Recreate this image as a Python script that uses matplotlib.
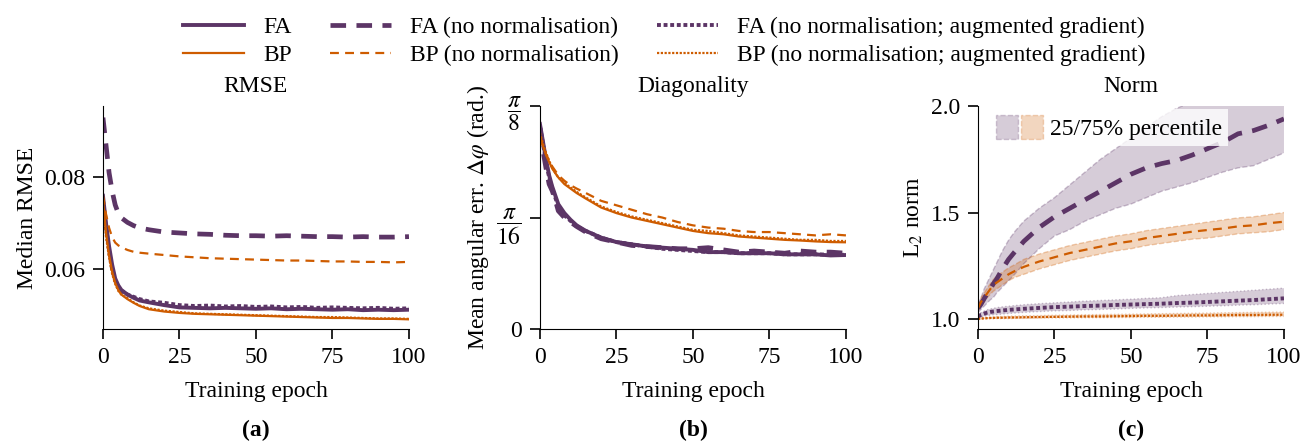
import numpy as np
import matplotlib
matplotlib.use('Agg')
import matplotlib.pyplot as plt
from matplotlib.lines import Line2D
from matplotlib.patches import Patch
from matplotlib.legend_handler import HandlerTuple

plt.rcParams['font.family'] = ['Liberation Serif', 'DejaVu Serif']
plt.rcParams['mathtext.fontset'] = 'stix'
plt.rcParams['font.size'] = 16

PURPLE = '#5c3566'
ORANGE = '#ce5c00'

epochs = [0, 1, 2, 3, 4, 5, 6, 8, 10, 12, 15, 20, 25, 30, 35, 40, 45, 50,
          55, 60, 65, 70, 75, 80, 85, 90, 95, 100]

# (a) median RMSE
rmse_fa = [0.076, 0.070, 0.065, 0.061, 0.058, 0.0565, 0.0555, 0.0545, 0.0538, 0.0532,
           0.0528, 0.0522, 0.0517, 0.0516, 0.0515, 0.0516, 0.0515, 0.0514, 0.0515, 0.0513,
           0.0514, 0.0513, 0.0512, 0.0513, 0.0511, 0.0512, 0.0511, 0.0512]
rmse_fa_nonorm = [0.093, 0.087, 0.081, 0.077, 0.074, 0.0722, 0.0712, 0.0702, 0.0695, 0.069,
                  0.0686, 0.0681, 0.0679, 0.0677, 0.0676, 0.0674, 0.0673, 0.0673, 0.0672, 0.0673,
                  0.0672, 0.0671, 0.0671, 0.067, 0.0671, 0.067, 0.067, 0.0671]
rmse_fa_aug = [0.075, 0.069, 0.064, 0.060, 0.0575, 0.0562, 0.0553, 0.0545, 0.054, 0.0535,
               0.053, 0.0527, 0.0522, 0.052, 0.0521, 0.0519, 0.052, 0.0518, 0.0519, 0.0517,
               0.0518, 0.0516, 0.0517, 0.0516, 0.0515, 0.0516, 0.0514, 0.0515]
rmse_bp = [0.075, 0.068, 0.063, 0.0595, 0.057, 0.0555, 0.0545, 0.0535, 0.0527, 0.052,
           0.0513, 0.0508, 0.0505, 0.0503, 0.0502, 0.0501, 0.0500, 0.0499, 0.0498, 0.0497,
           0.0496, 0.0495, 0.0494, 0.0494, 0.0493, 0.0492, 0.0492, 0.0491]
rmse_bp_nonorm = [0.076, 0.072, 0.069, 0.067, 0.0658, 0.0652, 0.0648, 0.0642, 0.0638, 0.0636,
                  0.0634, 0.0631, 0.0628, 0.0626, 0.0624, 0.0623, 0.0622, 0.0621, 0.062, 0.0619,
                  0.0619, 0.0618, 0.0617, 0.0617, 0.0616, 0.0616, 0.0615, 0.0616]
rmse_bp_aug = [0.074, 0.067, 0.0625, 0.059, 0.0568, 0.0553, 0.0545, 0.0537, 0.0528, 0.0521,
               0.0515, 0.051, 0.0507, 0.0504, 0.0503, 0.0502, 0.0501, 0.0500, 0.0499, 0.0498,
               0.0497, 0.0496, 0.0496, 0.0495, 0.0494, 0.0493, 0.0493, 0.0492]

# (b) mean angular error, in units of pi/8
ang_fa = [0.92, 0.84, 0.76, 0.69, 0.64, 0.60, 0.56, 0.52, 0.49, 0.465, 0.44, 0.41, 0.39, 0.38,
          0.37, 0.365, 0.36, 0.355, 0.345, 0.345, 0.34, 0.34, 0.34, 0.335, 0.335, 0.335, 0.33, 0.332]
ang_fa_nonorm = [0.90, 0.80, 0.72, 0.65, 0.62, 0.58, 0.53, 0.50, 0.48, 0.46, 0.435, 0.405, 0.39,
                 0.375, 0.37, 0.365, 0.36, 0.36, 0.365, 0.355, 0.345, 0.35, 0.345, 0.34, 0.35,
                 0.345, 0.345, 0.34]
ang_fa_aug = [0.91, 0.83, 0.75, 0.68, 0.63, 0.59, 0.55, 0.51, 0.485, 0.46, 0.44, 0.41, 0.39, 0.38,
              0.37, 0.36, 0.355, 0.35, 0.345, 0.345, 0.34, 0.34, 0.34, 0.335, 0.335, 0.335, 0.333, 0.333]
ang_bp = [0.87, 0.82, 0.78, 0.75, 0.72, 0.70, 0.68, 0.65, 0.63, 0.61, 0.585, 0.545, 0.52, 0.50,
          0.485, 0.47, 0.455, 0.44, 0.43, 0.425, 0.415, 0.41, 0.405, 0.40, 0.397, 0.393, 0.39, 0.389]
ang_bp_nonorm = [0.86, 0.82, 0.785, 0.755, 0.73, 0.71, 0.69, 0.665, 0.645, 0.63, 0.61, 0.575,
                 0.555, 0.535, 0.515, 0.50, 0.48, 0.465, 0.455, 0.45, 0.44, 0.435, 0.435, 0.43,
                 0.425, 0.42, 0.425, 0.42]
ang_bp_aug = [0.88, 0.83, 0.79, 0.755, 0.725, 0.70, 0.68, 0.655, 0.635, 0.615, 0.59, 0.55, 0.525,
              0.505, 0.49, 0.475, 0.46, 0.445, 0.44, 0.43, 0.42, 0.415, 0.41, 0.405, 0.40, 0.40,
              0.395, 0.395]

# (c) L2 norm, median with 25/75% percentiles
norm_fa_nonorm = [1.05, 1.07, 1.095, 1.12, 1.14, 1.165, 1.185, 1.235, 1.28, 1.315, 1.365, 1.43,
                  1.48, 1.52, 1.56, 1.60, 1.64, 1.68, 1.71, 1.73, 1.745, 1.77, 1.80, 1.83, 1.87,
                  1.885, 1.91, 1.94]
norm_fa_nonorm_lo = [1.03, 1.045, 1.06, 1.075, 1.09, 1.10, 1.12, 1.15, 1.18, 1.21, 1.26, 1.33,
                     1.39, 1.42, 1.46, 1.49, 1.52, 1.54, 1.57, 1.60, 1.62, 1.64, 1.665, 1.69,
                     1.71, 1.72, 1.75, 1.78]
norm_fa_nonorm_hi = [1.07, 1.10, 1.14, 1.17, 1.20, 1.23, 1.26, 1.32, 1.37, 1.41, 1.46, 1.52,
                     1.57, 1.63, 1.69, 1.75, 1.80, 1.85, 1.90, 1.95, 1.99, 2.02, 2.05, 2.07,
                     2.09, 2.11, 2.13, 2.15]
norm_bp_nonorm = [1.05, 1.08, 1.10, 1.12, 1.14, 1.16, 1.17, 1.19, 1.21, 1.225, 1.245, 1.27, 1.29,
                  1.31, 1.325, 1.34, 1.355, 1.365, 1.38, 1.39, 1.40, 1.41, 1.418, 1.425, 1.435,
                  1.44, 1.45, 1.457]
norm_bp_nonorm_lo = [1.04, 1.06, 1.08, 1.10, 1.115, 1.13, 1.14, 1.16, 1.18, 1.195, 1.21, 1.235,
                     1.255, 1.275, 1.29, 1.305, 1.32, 1.33, 1.345, 1.355, 1.365, 1.375, 1.38,
                     1.39, 1.40, 1.405, 1.41, 1.42]
norm_bp_nonorm_hi = [1.06, 1.10, 1.12, 1.145, 1.165, 1.185, 1.20, 1.22, 1.24, 1.255, 1.28, 1.305,
                     1.325, 1.345, 1.36, 1.375, 1.39, 1.40, 1.415, 1.425, 1.435, 1.445, 1.455,
                     1.465, 1.475, 1.48, 1.49, 1.50]
norm_fa_aug = [1.01, 1.02, 1.025, 1.03, 1.033, 1.035, 1.037, 1.04, 1.043, 1.045, 1.048, 1.052,
               1.056, 1.058, 1.061, 1.063, 1.066, 1.068, 1.07, 1.072, 1.075, 1.077, 1.08, 1.083,
               1.086, 1.089, 1.093, 1.097]
norm_fa_aug_lo = [1.005, 1.01, 1.013, 1.016, 1.018, 1.02, 1.021, 1.023, 1.026, 1.028, 1.031,
                  1.035, 1.038, 1.04, 1.043, 1.045, 1.047, 1.05, 1.052, 1.054, 1.056, 1.058, 1.06,
                  1.062, 1.065, 1.067, 1.07, 1.073]
norm_fa_aug_hi = [1.015, 1.03, 1.037, 1.043, 1.047, 1.05, 1.053, 1.057, 1.06, 1.063, 1.067, 1.072,
                  1.076, 1.08, 1.084, 1.087, 1.09, 1.093, 1.097, 1.1, 1.11, 1.115, 1.12, 1.125,
                  1.13, 1.135, 1.14, 1.145]
norm_bp_aug = [1.0, 1.002, 1.003, 1.004, 1.005, 1.005, 1.006, 1.006, 1.007, 1.007, 1.008, 1.009,
               1.01, 1.011, 1.012, 1.012, 1.013, 1.014, 1.015, 1.015, 1.016, 1.017, 1.017, 1.018,
               1.019, 1.019, 1.02, 1.02]
norm_bp_aug_lo = [0.998, 0.999, 1.0, 1.0, 1.001, 1.001, 1.002, 1.002, 1.002, 1.003, 1.003, 1.004,
                  1.005, 1.005, 1.006, 1.006, 1.007, 1.007, 1.008, 1.008, 1.009, 1.009, 1.01,
                  1.01, 1.011, 1.011, 1.012, 1.012]
norm_bp_aug_hi = [1.003, 1.006, 1.007, 1.008, 1.009, 1.01, 1.011, 1.012, 1.013, 1.014, 1.015,
                  1.016, 1.018, 1.019, 1.02, 1.021, 1.022, 1.023, 1.024, 1.025, 1.026, 1.027,
                  1.028, 1.029, 1.03, 1.031, 1.032, 1.033]

FA_LW = 2.8
FA_DASH_LW = 3.4
BP_LW = 1.6
DASH_FA = (0, (3.3, 2.2))
DASH_BP = (0, (4.0, 2.8))
DOT = (0, (1.0, 0.7))


def style_axes(ax):
    ax.spines['top'].set_visible(False)
    ax.spines['right'].set_visible(False)
    ax.tick_params(direction='out', length=7, width=1.2, labelsize=17, pad=6)
    ax.set_xlim(0, 100)
    ax.set_xticks([0, 25, 50, 75, 100])
    ax.set_xlabel('Training epoch', fontsize=17, labelpad=9)


def plotSix(ax, fa, fa_n, fa_a, bp, bp_n, bp_a):
    ax.plot(epochs, fa_n, color=PURPLE, lw=FA_DASH_LW, linestyle=DASH_FA)
    ax.plot(epochs, fa_a, color=PURPLE, lw=FA_LW, linestyle=DOT)
    ax.plot(epochs, fa, color=PURPLE, lw=FA_LW)
    ax.plot(epochs, bp_n, color=ORANGE, lw=BP_LW, linestyle=DASH_BP)
    ax.plot(epochs, bp_a, color=ORANGE, lw=BP_LW, linestyle=DOT)
    ax.plot(epochs, bp, color=ORANGE, lw=BP_LW)


fig = plt.figure(figsize=(13.15, 4.44), dpi=100)
w = 0.2327
h = 0.502
bot = 0.259
ax1 = fig.add_axes([0.0783, bot, w, h])
ax2 = fig.add_axes([0.4106, bot, w, h])
ax3 = fig.add_axes([0.7437, bot, w, h])

# RMSE
plotSix(ax1, rmse_fa, rmse_fa_nonorm, rmse_fa_aug, rmse_bp, rmse_bp_nonorm, rmse_bp_aug)
style_axes(ax1)
ax1.set_ylim(0.047, 0.0955)
ax1.set_yticks([0.06, 0.08])
ax1.set_yticklabels(['0.06', '0.08'])
ax1.set_ylabel('Median RMSE', fontsize=17)
ax1.set_title('RMSE', fontsize=17, pad=10)

# Diagonality
s = np.pi / 8
plotSix(ax2, np.array(ang_fa) * s, np.array(ang_fa_nonorm) * s, np.array(ang_fa_aug) * s,
        np.array(ang_bp) * s, np.array(ang_bp_nonorm) * s, np.array(ang_bp_aug) * s)
style_axes(ax2)
ax2.set_ylim(0, np.pi / 8)
ax2.set_yticks([0, np.pi / 16, np.pi / 8])
ax2.set_yticklabels(['0', r'$\dfrac{\pi}{16}$', r'$\dfrac{\pi}{8}$'])
ax2.set_ylabel(r'Mean angular err. $\Delta\varphi$ (rad.)', fontsize=17)
ax2.set_title('Diagonality', fontsize=17, pad=10)

# Norm
bands = [
    (norm_fa_nonorm_lo, norm_fa_nonorm_hi, PURPLE, 'dashed'),
    (norm_bp_nonorm_lo, norm_bp_nonorm_hi, ORANGE, 'dashed'),
    (norm_fa_aug_lo, norm_fa_aug_hi, PURPLE, 'dotted'),
    (norm_bp_aug_lo, norm_bp_aug_hi, ORANGE, 'dotted'),
]
for lo, hi, c, ls in bands:
    ax3.fill_between(epochs, lo, hi, facecolor=c, alpha=0.25, edgecolor='none')
    ax3.plot(epochs, lo, color=c, alpha=0.3, lw=1.0, linestyle=ls)
    ax3.plot(epochs, hi, color=c, alpha=0.3, lw=1.0, linestyle=ls)
ax3.plot(epochs, norm_fa_nonorm, color=PURPLE, lw=FA_DASH_LW, linestyle=DASH_FA)
ax3.plot(epochs, norm_fa_aug, color=PURPLE, lw=FA_LW, linestyle=DOT)
ax3.plot(epochs, norm_bp_nonorm, color=ORANGE, lw=BP_LW, linestyle=DASH_BP)
ax3.plot(epochs, norm_bp_aug, color=ORANGE, lw=BP_LW, linestyle=DOT)
style_axes(ax3)
ax3.set_ylim(0.953, 2.0)
ax3.set_yticks([1.0, 1.5, 2.0])
ax3.set_yticklabels(['1.0', '1.5', '2.0'])
ax3.set_ylabel(r'L$_2$ norm', fontsize=17)
ax3.set_title('Norm', fontsize=17, pad=10)

p1 = Patch(facecolor=PURPLE, alpha=0.25, edgecolor=PURPLE, linestyle='dashed')
p2 = Patch(facecolor=ORANGE, alpha=0.25, edgecolor=ORANGE, linestyle='dashed')
leg3 = ax3.legend([(p1, p2)], ['25/75% percentile'],
                  handler_map={tuple: HandlerTuple(ndivide=None, pad=0.15)},
                  loc='upper left', bbox_to_anchor=(0.0, 1.04), frameon=True, fancybox=False,
                  framealpha=0.8, edgecolor='none', fontsize=17, handlelength=2.0,
                  handleheight=1.2, handletextpad=0.3, borderpad=0.25)

# figure legend
handles = [
    Line2D([], [], color=PURPLE, lw=FA_LW),
    Line2D([], [], color=ORANGE, lw=BP_LW),
    Line2D([], [], color=PURPLE, lw=FA_DASH_LW, linestyle=DASH_FA),
    Line2D([], [], color=ORANGE, lw=BP_LW, linestyle=DASH_BP),
    Line2D([], [], color=PURPLE, lw=FA_LW, linestyle=DOT),
    Line2D([], [], color=ORANGE, lw=BP_LW, linestyle=DOT),
]
labels = ['FA', 'BP', 'FA (no normalisation)', 'BP (no normalisation)',
          'FA (no normalisation; augmented gradient)', 'BP (no normalisation; augmented gradient)']
fig.legend(handles, labels, ncol=3, loc='upper center', bbox_to_anchor=(0.505, 1.01),
           frameon=False, fontsize=17, handlelength=2.6, columnspacing=1.6,
           labelspacing=0.25, handletextpad=0.8)

for ax, lab in zip([ax1, ax2, ax3], ['(a)', '(b)', '(c)']):
    pos = ax.get_position()
    fig.text(pos.x0 + pos.width / 2, 0.03, lab, ha='center', va='center',
             fontsize=17, fontweight='bold')

fig.savefig('out.png', dpi=100)
